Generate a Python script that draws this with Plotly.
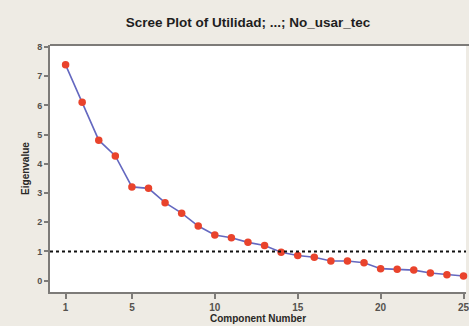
import plotly.graph_objects as go

component = list(range(1, 26))
eigenvalue = [7.39, 6.11, 4.81, 4.27, 3.21, 3.16, 2.67, 2.31, 1.87, 1.56,
              1.47, 1.31, 1.20, 0.97, 0.86, 0.80, 0.67, 0.67, 0.61, 0.41,
              0.39, 0.36, 0.26, 0.20, 0.16]
x_ticks = [1, 5, 10, 15, 20, 25]
y_ticks = [0, 1, 2, 3, 4, 5, 6, 7, 8]
reference_line = 1

title_text = "Scree Plot of Utilidad; ...; No_usar_tec"
x_title = "Component Number"
y_title = "Eigenvalue"

font_family = "Liberation Sans, DejaVu Sans, sans-serif"
frame_color = "#7d7b78"
label_color = "#55524e"

fig = go.Figure()
fig.add_trace(go.Scatter(
    x=component, y=eigenvalue, mode="lines+markers",
    line=dict(color="#6468c0", width=1.6),
    marker=dict(color="#e9432c", size=7.5, line=dict(width=0)),
    showlegend=False, cliponaxis=False,
))

fig.add_shape(type="line", xref="paper", yref="y", x0=0, x1=1,
              y0=reference_line, y1=reference_line,
              line=dict(color="#111111", width=2, dash="dot"))
fig.add_shape(type="line", xref="paper", yref="paper", x0=0, x1=1.02,
              y0=1, y1=1, line=dict(color=frame_color, width=2))

fig.update_layout(
    width=469, height=326,
    margin=dict(l=50, r=0, t=45, b=34),
    paper_bgcolor="#eeebe4", plot_bgcolor="#ffffff",
    font=dict(family=font_family, color=label_color, size=10),
    title=dict(text=title_text, x=248 / 469, xanchor="center", xref="container",
               y=1 - 22 / 326, yanchor="middle", yref="container",
               font=dict(family=font_family, size=13.5, color="#1e1e1e", weight="bold")),
)

fig.update_xaxes(
    range=[0.06, 25.15], tickvals=x_ticks, ticks="outside", ticklen=5,
    tickcolor=frame_color, tickwidth=1.5, showgrid=False, zeroline=False,
    showline=True, linecolor=frame_color, linewidth=2,
    ticklabeloverflow="allow",
    tickfont=dict(size=10, color=label_color, weight="bold"),
    title=dict(text=x_title, standoff=2,
               font=dict(size=10, color="#2a2826", weight="bold")),
)
fig.update_yaxes(
    range=[-0.39, 8.07], tickvals=y_ticks, ticks="outside", ticklen=4,
    tickcolor=frame_color, tickwidth=1.5, showgrid=False, zeroline=False,
    showline=True, linecolor=frame_color, linewidth=2,
    tickfont=dict(size=9, color=label_color, weight="bold"),
    title=dict(text=y_title, standoff=6,
               font=dict(size=10, color="#2a2826", weight="bold")),
)

fig.write_html(
    "out.html",
    config={"displayModeBar": False},
    post_script="document.body.style.margin='0';document.body.style.overflow='hidden';",
)
